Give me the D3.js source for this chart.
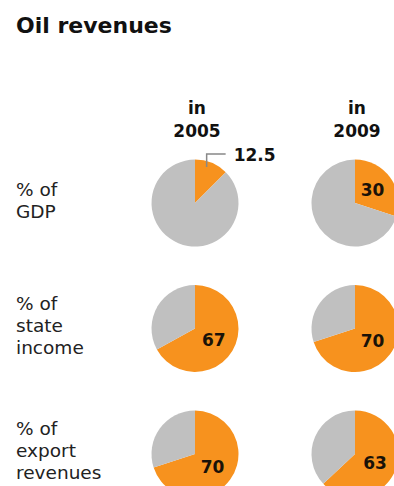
<!DOCTYPE html>
<html>
<head>
<meta charset="utf-8">
<script src="https://cdn.jsdelivr.net/npm/d3@7"></script>
<style>
  html, body { margin: 0; padding: 0; background: #fff; }
  svg { display: block; font-family: "DejaVu Sans", Verdana, sans-serif; }
</style>
</head>
<body>
<svg id="chart" width="394" height="486"></svg>
<script>
// Oil revenues as a share of GDP, state income and export revenues
const years = ["2005", "2009"];
const rowLabels = [
  ["% of", "GDP"],
  ["% of", "state", "income"],
  ["% of", "export", "revenues"]
];
const share2005 = [12.5, 67, 70];
const share2009 = [30, 70, 63];

const oilColor = "#f7921e";
const restColor = "#c0c0c0";

const svg = d3.select("#chart");

// Title
svg.append("text")
  .attr("x", 16).attr("y", 33)
  .attr("font-size", 22).attr("font-weight", "bold").attr("fill", "#111")
  .text("Oil revenues");

// Layout scales
const x = d3.scalePoint().domain(years).range([195, 355]);
const y = d3.scalePoint().domain(d3.range(rowLabels.length)).range([203, 454]);
const r = 43.5;

// Column headers
years.forEach(yr => {
  const t = svg.append("text")
    .attr("text-anchor", "middle")
    .attr("font-size", 17).attr("font-weight", "bold").attr("fill", "#111");
  t.append("tspan").attr("x", x(yr) + 2).attr("y", 114).text("in");
  t.append("tspan").attr("x", x(yr) + 2).attr("y", 137).text(yr);
});

// Row labels
rowLabels.forEach((lines, i) => {
  const top = y(i) - 7 - (lines.length - 2) * 12;
  const t = svg.append("text")
    .attr("font-size", 18.5).attr("fill", "#222");
  lines.forEach((ln, k) => {
    t.append("tspan").attr("x", 16).attr("y", top + k * 22).text(ln);
  });
});

const pie = d3.pie().sort(null).value(d => d);
const arc = d3.arc().innerRadius(0).outerRadius(r);
const labelArc = d3.arc().innerRadius(r * 0.5).outerRadius(r * 0.5);

const series = { "2005": share2005, "2009": share2009 };

years.forEach(yr => {
  series[yr].forEach((v, i) => {
    const g = svg.append("g")
      .attr("transform", `translate(${x(yr)},${y(i)})`);
    const slices = pie([v, 100 - v]);
    g.selectAll("path")
      .data(slices)
      .join("path")
      .attr("d", arc)
      .attr("fill", (d, k) => k === 0 ? oilColor : restColor);

    const oil = slices[0];
    const [cx, cy] = labelArc.centroid(oil);
    if (v < 20) {
      // small slice: value sits outside with a leader line
      const lx = cx * 1.4;
      g.append("path")
        .attr("d", `M${lx},${-36} V${-49} H${lx + 19}`)
        .attr("fill", "none").attr("stroke", "#888").attr("stroke-width", 1.5);
      g.append("text")
        .attr("x", lx + 27).attr("y", -42)
        .attr("font-size", 17).attr("font-weight", "bold").attr("fill", "#111")
        .text(v);
    } else {
      g.append("text")
        .attr("x", cx).attr("y", cy)
        .attr("dy", "0.36em")
        .attr("text-anchor", "middle")
        .attr("font-size", 17).attr("font-weight", "bold").attr("fill", "#1a1208")
        .text(v);
    }
  });
});
</script>
</body>
</html>
